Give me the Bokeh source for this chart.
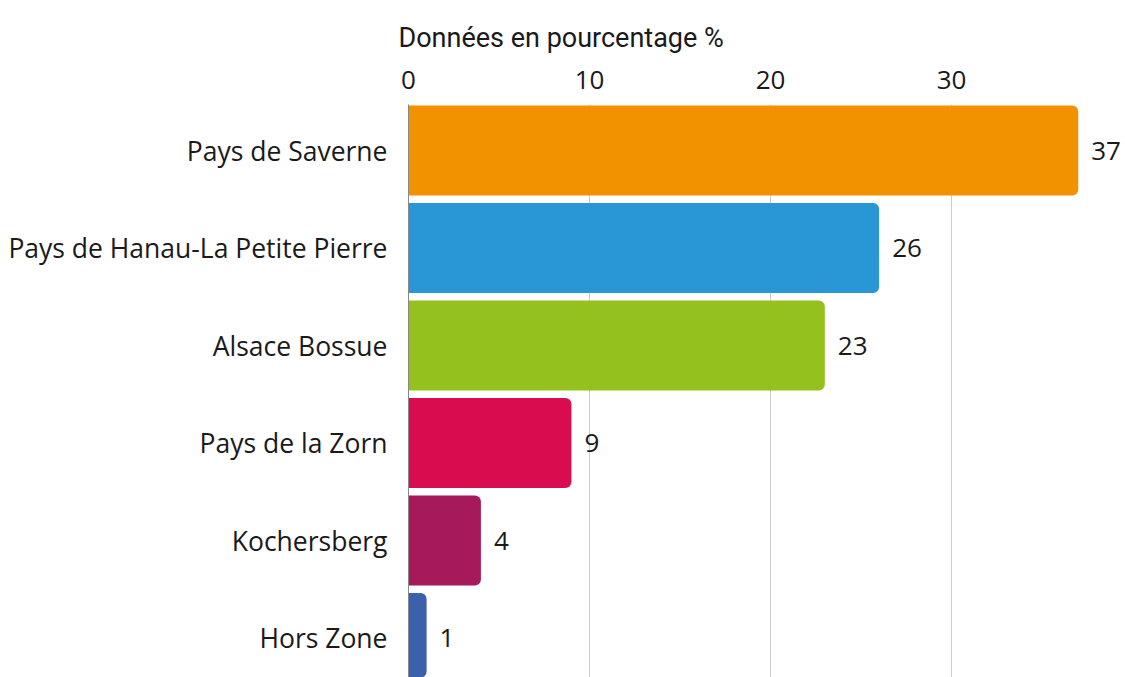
from bokeh.plotting import figure
from bokeh.models import Range1d, FixedTicker, ColumnDataSource
from bokeh.core.properties import value
from bokeh.embed import file_html
from bokeh.resources import INLINE

categories = ["Pays de Saverne", "Pays de Hanau-La Petite Pierre", "Alsace Bossue",
              "Pays de la Zorn", "Kochersberg", "Hors Zone"]
values = [37, 26, 23, 9, 4, 1]
colors = ["#F39200", "#2997D6", "#95C11F", "#DA0C50", "#A6195A", "#3C61AC"]
x_ticks = [0, 10, 20, 30]
title_text = "Données en pourcentage %"

n = len(categories)
ypos = [n - 1 - i for i in range(n)]
labels = [str(v) for v in values]

src = ColumnDataSource(dict(y=ypos, v=values, c=colors, lab=labels))

# frame: left 408, right 1125, top 104, bottom 677 ; 18.1 px per unit, 97.5 px per row
p = figure(width=1125, height=677, output_backend="svg", toolbar_location=None,
           x_range=Range1d(0, 39.61), y_range=Range1d(-0.405, 5.472),
           x_axis_location="above",
           min_border_left=408, min_border_right=0, min_border_top=104, min_border_bottom=0)
p.outline_line_color = None
p.background_fill_color = "white"
p.border_fill_color = "white"

p.hbar(y="y", left=0, right="v", height=0.923, fill_color="c", line_color=None,
       border_radius=(0, 6, 6, 0), source=src)

p.text(x="v", y="y", text="lab", x_offset=13, text_baseline="middle", text_align="left",
       text_font=value("Open Sans"), text_font_size="26px", text_color="#1a1a1a", source=src)

# axes
p.xaxis.ticker = FixedTicker(ticks=x_ticks)
p.xaxis.axis_line_color = None
p.xaxis.major_tick_line_color = None
p.xaxis.minor_tick_line_color = None
p.xaxis.major_label_text_font = "Open Sans"
p.xaxis.major_label_text_font_size = "26px"
p.xaxis.major_label_text_color = "#1a1a1a"
p.xaxis.major_label_standoff = 10

p.yaxis.ticker = FixedTicker(ticks=ypos)
p.yaxis.major_label_overrides = {y: c for y, c in zip(ypos, categories)}
p.yaxis.axis_line_color = "#888888"
p.yaxis.major_tick_line_color = None
p.yaxis.minor_tick_line_color = None
p.yaxis.major_label_text_font = "Open Sans"
p.yaxis.major_label_text_font_size = "26.5px"
p.yaxis.major_label_text_color = "#1a1a1a"
p.yaxis.major_label_standoff = 15

p.xgrid.ticker = FixedTicker(ticks=x_ticks[1:])
p.xgrid.grid_line_color = "#cccccc"
p.ygrid.grid_line_color = None

p.title.text = title_text
p.title.text_font = "Roboto"
p.title.text_font_size = "27px"
p.title.text_font_style = "normal"
p.title.text_color = "#1a1a1a"
p.title.align = "left"
p.title.offset = -10
p.title.standoff = 28

open("out.html", "w").write(file_html(p, INLINE))
